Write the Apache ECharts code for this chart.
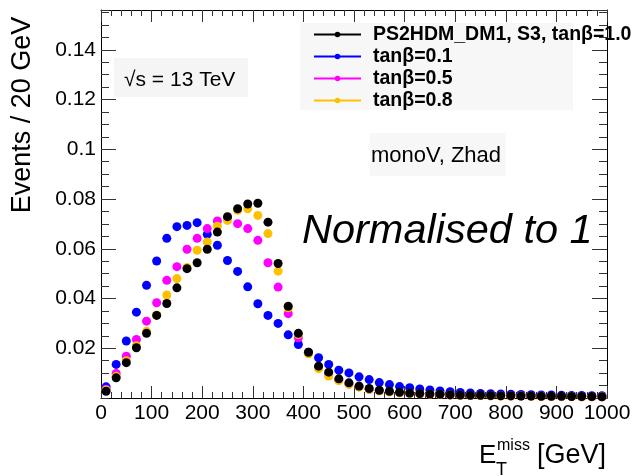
<!DOCTYPE html>
<html><head><meta charset="utf-8">
<script src="https://cdn.jsdelivr.net/npm/echarts@6/dist/echarts.min.js"></script>
<style>html,body{margin:0;padding:0;background:#fff}#c{width:644px;height:476px}</style>
</head><body><div id="c"></div>
<script>
// MET bin centres (20 GeV bins)
const binCenters = [10,30,50,70,90,110,130,150,170,190,210,230,250,270,290,310,330,350,370,390,
  410,430,450,470,490,510,530,550,570,590,610,630,650,670,690,710,730,750,770,790,
  810,830,850,870,890,910,930,950,970,990];

const tanb10 = [0.0027,0.0081,0.0142,0.0202,0.0260,0.0332,0.0380,0.0443,0.0520,0.0544,
  0.0598,0.0667,0.0729,0.0761,0.0780,0.0783,0.0707,0.0541,0.0369,0.0260,
  0.0184,0.0128,0.0104,0.0077,0.0061,0.0048,0.0038,0.0031,0.0027,0.0023,
  0.0020,0.0018,0.0016,0.0015,0.0013,0.0012,0.0011,0.0011,0.0010,0.0009,
  0.0009,0.0008,0.0008,0.0007,0.0007,0.0007,0.0006,0.0006,0.0006,0.0005];

const tanb01 = [0.0045,0.0135,0.0229,0.0345,0.0453,0.0551,0.0642,0.0689,0.0694,0.0705,
  0.0658,0.0614,0.0553,0.0509,0.0447,0.0379,0.0332,0.0300,0.0254,0.0215,
  0.0184,0.0162,0.0135,0.0112,0.0101,0.0085,0.0074,0.0062,0.0054,0.0046,
  0.0041,0.0036,0.0032,0.0028,0.0025,0.0022,0.0020,0.0018,0.0017,0.0016,
  0.0015,0.0014,0.0013,0.0012,0.0012,0.0011,0.0010,0.0010,0.0009,0.0009];

const tanb05 = [0.0035,0.0099,0.0168,0.0235,0.0309,0.0383,0.0473,0.0528,0.0598,0.0642,
  0.0681,0.0712,0.0721,0.0701,0.0681,0.0634,0.0544,0.0446,0.0339,0.0242,
  0.0180,0.0125,0.0095,0.0072,0.0056,0.0045,0.0035,0.0029,0.0025,0.0021,
  0.0019,0.0017,0.0015,0.0014,0.0012,0.0011,0.0010,0.0010,0.0009,0.0009,
  0.0008,0.0008,0.0007,0.0007,0.0006,0.0006,0.0006,0.0005,0.0005,0.0005];

const tanb08 = [0.0032,0.0087,0.0150,0.0210,0.0268,0.0334,0.0414,0.0480,0.0525,0.0594,
  0.0627,0.0691,0.0714,0.0755,0.0761,0.0734,0.0661,0.0510,0.0363,0.0255,
  0.0178,0.0118,0.0088,0.0070,0.0055,0.0044,0.0035,0.0029,0.0025,0.0021,
  0.0019,0.0017,0.0015,0.0014,0.0012,0.0011,0.0010,0.0010,0.0009,0.0008,
  0.0008,0.0008,0.0007,0.0007,0.0006,0.0006,0.0006,0.0005,0.0005,0.0005];

const seriesNames = ['PS2HDM_DM1, S3, tanβ=1.0', 'tanβ=0.1', 'tanβ=0.5', 'tanβ=0.8'];
const seriesColors = ['#000000', '#0000ff', '#ff00ff', '#ffc000'];
const seriesValues = [tanb10, tanb01, tanb05, tanb08];

const FONT = '"Liberation Sans", Arial, Helvetica, sans-serif';

const chart = echarts.init(document.getElementById('c'), null, {renderer: 'canvas'});

function xAx(grid, pos, interval, tickLen, labels, line) {
  return {
    gridIndex: grid, type: 'value', position: pos, min: 0, max: 1000, interval: interval,
    axisLine: {show: line, onZero: false, lineStyle: {color: '#000', width: 1}},
    axisTick: {show: true, inside: true, length: tickLen, lineStyle: {color: '#333', width: 1}},
    axisLabel: {show: labels, margin: 5, fontSize: 21, color: '#000', fontFamily: FONT,
      formatter: function (v) { return String(v); }},
    splitLine: {show: false}, minorTick: {show: false}
  };
}
function yAx(grid, pos, interval, tickLen, labels, line) {
  return {
    gridIndex: grid, type: 'value', position: pos, min: 0, max: 0.156, interval: interval,
    axisLine: {show: line, onZero: false, lineStyle: {color: '#000', width: 1}},
    axisTick: {show: true, inside: true, length: tickLen, lineStyle: {color: '#333', width: 1}},
    axisLabel: {show: labels, margin: 5, fontSize: 21, color: '#000', fontFamily: FONT,
      showMinLabel: false, showMaxLabel: false},
    splitLine: {show: false}, minorTick: {show: false}
  };
}

// draw order: blue, magenta, orange, black on top
const drawOrder = [1, 2, 3, 0];
const series = drawOrder.map(function (i) {
  return {
    type: 'line', name: seriesNames[i], xAxisIndex: 0, yAxisIndex: 0,
    data: binCenters.map(function (x, k) { return [x, seriesValues[i][k]]; }),
    symbol: 'circle', symbolSize: 9, showSymbol: true,
    color: seriesColors[i],
    itemStyle: {color: seriesColors[i]},
    lineStyle: {width: 0, opacity: 0, color: seriesColors[i]},
    silent: true, animation: false, emphasis: {disabled: true}
  };
});

const option = {
  animation: false,
  backgroundColor: '#ffffff',
  grid: [
    {left: 101, top: 10, width: 506, height: 388},
    {left: 101, top: 10, width: 506, height: 388}
  ],
  xAxis: [
    xAx(0, 'bottom', 100, 12, true, true),
    xAx(0, 'top', 100, 12, false, true),
    xAx(1, 'bottom', 20, 6, false, false),
    xAx(1, 'top', 20, 6, false, false)
  ],
  yAxis: [
    yAx(0, 'left', 0.02, 15, true, true),
    yAx(0, 'right', 0.02, 15, false, true),
    yAx(1, 'left', 0.005, 8, false, false),
    yAx(1, 'right', 0.005, 8, false, false)
  ],
  legend: {
    show: true, orient: 'vertical', left: 313, top: 23.5, padding: 0, itemGap: 0,
    itemWidth: 47, itemHeight: 7, selectedMode: false, z: 10,
    data: seriesNames,
    textStyle: {fontFamily: FONT, fontWeight: 'bold', fontSize: 19.5, color: '#000',
      lineHeight: 22, padding: [0, 0, 0, 7]},
    lineStyle: {width: 2, opacity: 1}
  },
  graphic: {elements: [
    {type: 'rect', z: 1, shape: {x: 300, y: 23, width: 273, height: 87}, style: {fill: '#f7f7f7'}},
    {type: 'rect', z: 1, shape: {x: 114, y: 58, width: 134, height: 39}, style: {fill: '#f5f5f5'}},
    {type: 'rect', z: 1, shape: {x: 370, y: 133, width: 136, height: 43}, style: {fill: '#f7f7f7'}},
    {type: 'text', z: 2, x: 124, y: 80, style: {text: '√s = 13 TeV', fontSize: 21, fontFamily: FONT,
      fill: '#000', align: 'left', verticalAlign: 'middle'}},
    {type: 'text', z: 2, x: 371, y: 155.5, style: {text: 'monoV, Zhad', fontSize: 22, fontFamily: FONT,
      fill: '#000', align: 'left', verticalAlign: 'middle'}},
    {type: 'text', z: 2, x: 302, y: 231, style: {text: 'Normalised to 1', fontSize: 41.5, fontStyle: 'italic',
      fontFamily: FONT, fill: '#000', align: 'left', verticalAlign: 'middle'}},
    {type: 'text', z: 2, x: 22.5, y: 115, rotation: Math.PI / 2, style: {text: 'Events / 20 GeV', fontSize: 27,
      fontFamily: FONT, fill: '#000', align: 'center', verticalAlign: 'middle'}},
    {type: 'text', z: 2, x: 479, y: 456, style: {text: 'E', fontSize: 26, fontFamily: FONT,
      fill: '#000', align: 'left', verticalAlign: 'middle'}},
    {type: 'text', z: 2, x: 496, y: 470, style: {text: 'T', fontSize: 18, fontFamily: FONT,
      fill: '#000', align: 'left', verticalAlign: 'middle'}},
    {type: 'text', z: 2, x: 497, y: 446, style: {text: 'miss', fontSize: 16, fontFamily: FONT,
      fill: '#000', align: 'left', verticalAlign: 'middle'}},
    {type: 'text', z: 2, x: 537, y: 456, style: {text: '[GeV]', fontSize: 27, fontFamily: FONT,
      fill: '#000', align: 'left', verticalAlign: 'middle'}}
  ]},
  series: series
};
chart.setOption(option);
</script>
</body></html>
